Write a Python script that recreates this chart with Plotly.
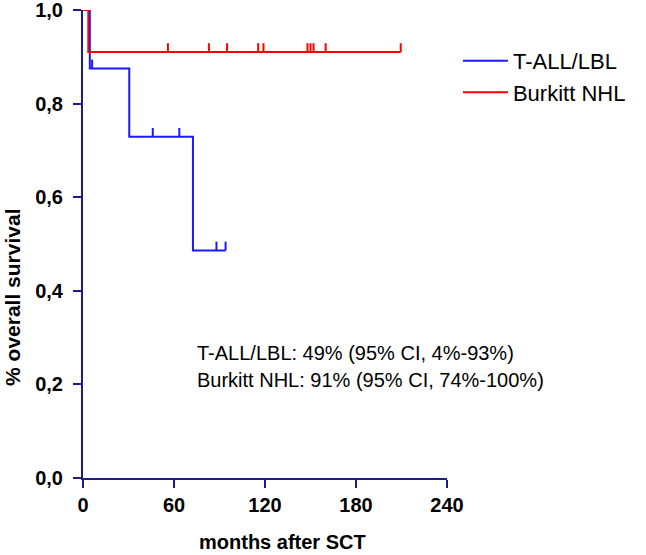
import plotly.graph_objects as go

# ---- data ----
tall_times = [0, 4.5, 30.5, 72.5, 94]
tall_surv = [1.0, 0.875, 0.729, 0.486, 0.486]
tall_censor_t = [6, 46, 63.5, 88, 94]
tall_censor_s = [0.875, 0.729, 0.729, 0.486, 0.486]

burk_times = [0, 3.5, 209.5]
burk_surv = [1.0, 0.91, 0.91]
burk_censor_t = [56, 83, 95, 115.5, 119, 148, 150, 152, 160, 209.5]
burk_censor_s = [0.91] * 10

x_ticks = [0, 60, 120, 180, 240]
y_ticks = [0.0, 0.2, 0.4, 0.6, 0.8, 1.0]
y_ticktext = ["0,0", "0,2", "0,4", "0,6", "0,8", "1,0"]

series_names = ["T-ALL/LBL", "Burkitt NHL"]
series_colors = ["#1a1aff", "#ff0000"]
stats_text = ["T-ALL/LBL: 49% (95% CI, 4%-93%)", "Burkitt NHL: 91% (95% CI, 74%-100%)"]

NAVY = "#1c1c8a"
TICK_H = 0.019


def censor_segments(ts, ss):
    xs, ys = [], []
    for t, s in zip(ts, ss):
        xs += [t, t, None]
        ys += [s, s + TICK_H, None]
    return xs, ys


fig = go.Figure()
for name, color, times, surv, ct, cs in [
    (series_names[0], series_colors[0], tall_times, tall_surv, tall_censor_t, tall_censor_s),
    (series_names[1], series_colors[1], burk_times, burk_surv, burk_censor_t, burk_censor_s),
]:
    fig.add_trace(go.Scatter(x=times, y=surv, mode="lines", name=name,
                             line=dict(color=color, width=2, shape="hv"),
                             cliponaxis=False, legendgroup=name))
    cx, cy = censor_segments(ct, cs)
    fig.add_trace(go.Scatter(x=cx, y=cy, mode="lines", showlegend=False,
                             line=dict(color=color, width=2),
                             cliponaxis=False, legendgroup=name, hoverinfo="skip"))

fig.update_layout(
    width=646, height=555,
    margin=dict(l=83, r=199, t=10, b=77, autoexpand=False),
    paper_bgcolor="white", plot_bgcolor="white",
    font=dict(family="Arial, Liberation Sans, sans-serif", color="black"),
    showlegend=True,
    legend=dict(x=1.030, y=0.936, xanchor="left", yanchor="top",
                font=dict(size=22, color="black"), bgcolor="rgba(0,0,0,0)",
                tracegroupgap=0, itemwidth=45),
    xaxis=dict(range=[0, 240], tickvals=x_ticks,
               ticktext=["<b>%d</b>" % v for v in x_ticks],
               showgrid=False, zeroline=False, showline=True, linecolor=NAVY, linewidth=2,
               ticks="outside", ticklen=8, tickwidth=2, tickcolor=NAVY,
               tickfont=dict(size=20, color="black"), ticklabelstandoff=0,
               ticklabeloverflow="allow"),
    yaxis=dict(range=[0, 1], tickvals=y_ticks,
               ticktext=["<b>%s</b>" % t for t in y_ticktext],
               showgrid=False, zeroline=False, showline=True, linecolor=NAVY, linewidth=2,
               ticks="outside", ticklen=8, tickwidth=2, tickcolor=NAVY,
               tickfont=dict(size=20, color="black"), ticklabelstandoff=6,
               ticklabeloverflow="allow"),
)

fig.add_annotation(text="<b>months after SCT</b>", xref="paper", yref="paper",
                   x=0.549, y=-0.137, xanchor="center", yanchor="middle",
                   showarrow=False, font=dict(size=20, color="black"))
fig.add_annotation(text="<b>% overall survival</b>", xref="paper", yref="paper",
                   x=-0.192, y=0.385, xanchor="center", yanchor="middle", textangle=-90,
                   showarrow=False, font=dict(size=21, color="black"))
for txt, yy in zip(stats_text, [0.267, 0.209]):
    fig.add_annotation(text=txt, xref="paper", yref="paper", x=0.308, y=yy,
                       xanchor="left", yanchor="middle", showarrow=False,
                       font=dict(size=20, color="black"))

fig.write_html("out.html", config={"displayModeBar": False},
               post_script="document.body.style.margin='0';")
